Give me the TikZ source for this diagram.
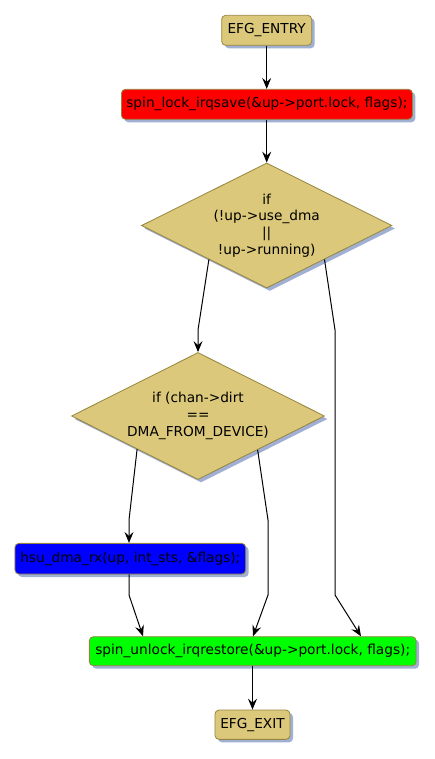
\documentclass[tikz,border=0pt]{standalone}
\usepackage{fontspec}
\setmainfont{DejaVu Sans}
\usetikzlibrary{shapes.geometric,shadows,calc,arrows.meta}
\definecolor{tanfill}{RGB}{219,200,122}
\definecolor{bord}{RGB}{150,132,64}
\definecolor{shad}{RGB}{160,176,210}
\begin{document}
\begin{tikzpicture}[x=1pt,y=-1pt,
  every node/.style={font=\fontsize{13.7}{16.6}\selectfont},
  shad/.style={drop shadow={shadow xshift=3pt,shadow yshift=-3pt,fill=shad,opacity=1}},
  box/.style={draw=bord, line width=0.8pt, rounded corners=4pt, inner sep=0pt, align=center, shad},
  dia/.style={diamond, shape aspect=2, draw=bord, fill=tanfill, line width=0.8pt, inner sep=0pt, align=center, shad},
  arr/.style={draw=black, line width=1pt, -{Stealth[length=11pt,width=9pt,inset=4pt]}},
]
\useasboundingbox (0,0) rectangle (435,759);

\node[box, fill=tanfill, minimum width=90pt, minimum height=30pt] (entry) at (266.7,30.3) {EFG\_ENTRY};
\node[box, fill=red, minimum width=291pt, minimum height=30pt] (lock) at (266.9,104.3) {spin\_lock\_irqsave(\&up->port.lock, flags);};
\node[dia, minimum width=250.5pt, minimum height=125pt] (d1) at (266.7,225.5) {if\\(!up->use\_dma\\||\\!up->running)};
\node[dia, minimum width=253pt, minimum height=127pt] (d2) at (198,416) {if (chan->dirt\\==\\DMA\_FROM\_DEVICE)};
\node[box, fill=blue, minimum width=230.7pt, minimum height=30.7pt] (rx) at (130.3,558.7) {hsu\_dma\_rx(up, int\_sts, \&flags);};
\node[box, fill=green, minimum width=326.7pt, minimum height=29pt] (unlock) at (252.7,651.2) {spin\_unlock\_irqrestore(\&up->port.lock, flags);};
\node[box, fill=tanfill, minimum width=75pt, minimum height=29.3pt] (exit) at (252.5,724.7) {EFG\_EXIT};

\draw[arr] (entry.south) -- (entry.south |- lock.north);
\draw[arr] (lock.south -| d1.north) -- (d1.north);
\draw[arr] ($(d1.west)!0.54!(d1.south)$) -- (198,330) -- (d2.north);
\draw[arr] ($(d1.east)!0.54!(d1.south)$) -- (335,330) -- (335,595) -- (361,0 |- unlock.north);
\draw[arr] ($(d2.west)!0.52!(d2.south)$) -- (129,520) -- (129,0 |- rx.north);
\draw[arr] ($(d2.east)!0.53!(d2.south)$) -- (268,520) -- (268,595) -- (253,0 |- unlock.north);
\draw[arr] (129,0 |- rx.south) -- (129,595) -- (143,0 |- unlock.north);
\draw[arr] (unlock.south -| exit.north) -- (exit.north);
\end{tikzpicture}
\end{document}
